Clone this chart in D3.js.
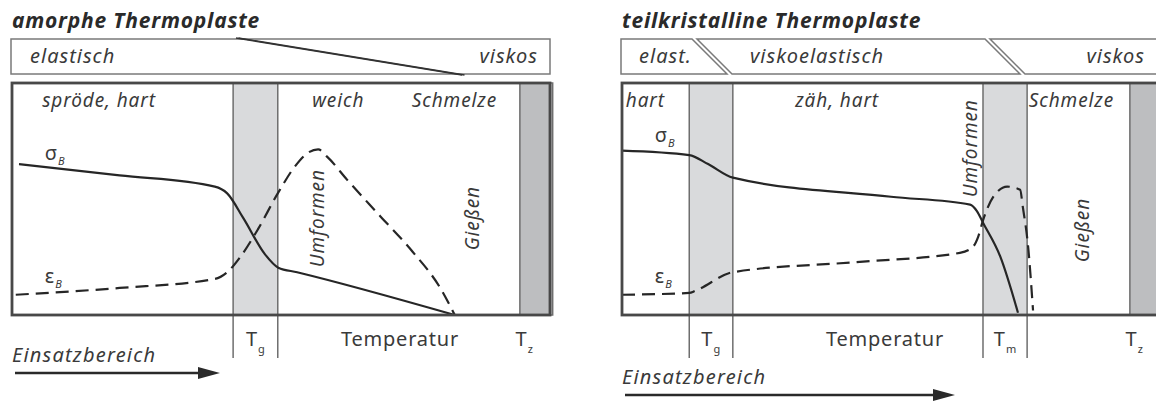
<!DOCTYPE html>
<html>
<head>
<meta charset="utf-8" />
<title>Thermoplaste</title>
<script src="https://cdnjs.cloudflare.com/ajax/libs/d3/7.8.5/d3.min.js"></script>
<style>
  body { margin: 0; background: #fff; }
  text { font-family: "Noto Sans", sans-serif; fill: #3a3a3a; }
</style>
</head>
<body>
<svg id="chart" width="1156" height="403"></svg>
<script>
// x: temperature, 0..100 across each panel; y: property value, 0..103 (box height)
let sigmaAmorph = [[1.3, 67], [20, 62], [37.7, 57], [40, 54], [43, 43], [47, 27], [49.5, 21], [53, 19], [82.3, 0]]
let epsAmorph = [[0.7, 9], [20, 12], [37.7, 16], [40, 19], [42.5, 26], [45.7, 38], [49.4, 54], [52.6, 66],
                 [55, 72], [56.9, 73.5], [58.6, 70.2], [62.3, 60], [68.4, 44], [74.5, 28], [79.6, 12], [82.3, 0]]
let sigmaTeil = [[0, 73], [12.5, 71], [16, 67], [20.6, 61], [50, 52.5], [64.7, 49], [66, 46], [67.1, 41],
                 [70.3, 26], [73.6, 1]]
let epsTeil = [[0, 9], [12.5, 9.8], [13.6, 10.7], [20.6, 19], [44.2, 23.6], [62.8, 27.6], [65.2, 30.2],
               [66.2, 34.7], [67.1, 42], [69, 52.4], [71.6, 57], [74, 55.6], [74.5, 48], [75.5, 30], [76.4, 2]]

// temperature bands [from, to, shade]
let bandsAmorph = [[41.1, 49.4, 'light'], [94.4, 100.5, 'dark']]
let bandsTeil = [[12.5, 20.6, 'light'], [67.1, 75.3, 'light'], [94.4, 100.5, 'dark']]

// tick labels below the axis [main, sub, temperature]
let ticksAmorph = [['T', 'g', 45.25], ['T', 'z', 95.2]]
let ticksTeil = [['T', 'g', 16.5], ['T', 'm', 71.2], ['T', 'z', 95.2]]

// texts inside the boxes [text, temperature, value]
let zonesAmorph = [['spröde, hart', 5.6, 92.4], ['weich', 55.8, 92.4], ['Schmelze', 74.3, 92.4]]
let zonesTeil = [['hart', 0.7, 92.4], ['zäh, hart', 32.2, 92.4], ['Schmelze', 75.6, 92.4]]
let verticalAmorph = [['Umformen', 56.7, 43], ['Gießen', 85.5, 43]]
let verticalTeil = [['Umformen', 64.6, 74], ['Gießen', 85.5, 37.7]]

let svg = d3.select('#chart')
let yScale = d3.scaleLinear().domain([0, 103]).range([315, 83])
let bannerTop = 39, bannerBottom = 74

function drawPanel(p) {
  let xScale = d3.scaleLinear().domain([0, 100]).range([p.left, p.left + 538])
  let g = svg.append('g')

  g.append('text')
    .attr('x', p.left).attr('y', 28)
    .style('font-size', '21px').style('font-weight', 'bold').style('font-style', 'italic')
    .style('letter-spacing', '0.8px')
    .style('fill', '#2a2a2a')
    .text(p.title)

  // bands
  g.selectAll('rect.band').data(p.bands).enter().append('rect')
    .attr('class', 'band')
    .attr('x', d => xScale(d[0]))
    .attr('width', d => xScale(d[1]) - xScale(d[0]))
    .attr('y', yScale(103))
    .attr('height', yScale(0) - yScale(103))
    .style('fill', d => d[2] == 'dark' ? '#bdbec0' : '#d9dadc')
    .style('stroke', '#6e6e6e')
    .style('stroke-width', 1.5)

  // band edges continue below the axis (not for T_z)
  let edges = []
  p.bands.filter(d => d[2] == 'light').forEach(d => { edges.push(d[0]); edges.push(d[1]) })
  g.selectAll('line.edge').data(edges).enter().append('line')
    .attr('x1', d => xScale(d)).attr('x2', d => xScale(d))
    .attr('y1', yScale(0)).attr('y2', 358)
    .style('stroke', '#6e6e6e').style('stroke-width', 1.5)

  let line = d3.line()
    .x(d => xScale(d[0]))
    .y(d => yScale(d[1]))
    .curve(d3.curveMonotoneX)

  g.append('path')
    .attr('d', line(p.sigma))
    .style('fill', 'none').style('stroke', '#262626').style('stroke-width', 2.2)

  g.append('path')
    .attr('d', line(p.eps))
    .style('fill', 'none').style('stroke', '#262626').style('stroke-width', 2.2)
    .style('stroke-dasharray', '13,7')

  g.append('rect')
    .attr('x', xScale(0)).attr('y', yScale(103))
    .attr('width', xScale(100) - xScale(0))
    .attr('height', yScale(0) - yScale(103))
    .style('fill', 'none').style('stroke', '#484848').style('stroke-width', 2.8)

  // zone texts
  g.selectAll('text.zone').data(p.zones).enter().append('text')
    .attr('class', 'zone')
    .attr('x', d => xScale(d[1])).attr('y', d => yScale(d[2]))
    .style('font-size', '19px').style('font-style', 'italic').style('letter-spacing', '0.9px')
    .text(d => d[0])

  g.selectAll('text.vert').data(p.vertical).enter().append('text')
    .attr('class', 'vert')
    .attr('transform', d => 'translate(' + (xScale(d[1]) + 7) + ',' + yScale(d[2]) + ') rotate(-90)')
    .attr('text-anchor', 'middle')
    .style('font-size', '19px').style('font-style', 'italic').style('letter-spacing', '0.9px')
    .text(d => d[0])

  // curve labels
  let sym = [['σ', p.sigmaLabel], ['ε', p.epsLabel]]
  sym.forEach(s => {
    let t = g.append('text')
      .attr('x', xScale(s[1][0])).attr('y', yScale(s[1][1]))
      .style('font-size', '20px')
    t.append('tspan').text(s[0])
    t.append('tspan').attr('dy', 5).attr('dx', 1).style('font-size', '11px').style('font-style', 'italic').text('B')
  })

  // tick labels
  g.selectAll('text.tick').data(p.ticks).enter().append('text')
    .attr('class', 'tick')
    .attr('x', d => xScale(d[2]))
    .attr('y', 346)
    .attr('text-anchor', 'middle')
    .style('font-size', '20px')
    .each(function(d) {
      d3.select(this).append('tspan').text(d[0])
      d3.select(this).append('tspan').attr('dy', 7).attr('dx', 1).style('font-size', '11px').text(d[1])
    })

  g.append('text')
    .attr('x', p.tempX).attr('y', 346)
    .attr('text-anchor', 'middle')
    .style('font-size', '20px').style('letter-spacing', '0.8px')
    .text('Temperatur')

  g.append('text')
    .attr('x', p.left).attr('y', p.useY)
    .style('font-size', '20px').style('font-style', 'italic').style('letter-spacing', '1.2px')
    .text('Einsatzbereich')

  g.append('line')
    .attr('x1', p.left + 3).attr('x2', p.arrowEnd - 18)
    .attr('y1', p.useY + 11).attr('y2', p.useY + 11)
    .style('stroke', '#2a2a2a').style('stroke-width', 2.5)
  g.append('path')
    .attr('d', 'M' + (p.arrowEnd - 22) + ',' + (p.useY + 5) + 'L' + p.arrowEnd + ',' + (p.useY + 11) +
               'L' + (p.arrowEnd - 22) + ',' + (p.useY + 17) + 'Z')
    .style('fill', '#2a2a2a')

  p.banner(g, xScale)
}

function bannerText(g, x, txt, anchor) {
  g.append('text')
    .attr('x', x).attr('y', 63)
    .attr('text-anchor', anchor || 'start')
    .style('font-size', '20px').style('font-style', 'italic').style('letter-spacing', '1px')
    .text(txt)
}

drawPanel({
  left: 12, title: 'amorphe Thermoplaste',
  sigma: sigmaAmorph, eps: epsAmorph, bands: bandsAmorph, ticks: ticksAmorph,
  zones: zonesAmorph, vertical: verticalAmorph,
  sigmaLabel: [6.1, 68.8], epsLabel: [6.1, 14.2],
  tempX: 400, useY: 362, arrowEnd: 220,
  banner: function(g, xScale) {
    g.append('rect')
      .attr('x', xScale(0) - 1).attr('y', bannerTop)
      .attr('width', 539).attr('height', bannerBottom - bannerTop)
      .style('fill', '#fff').style('stroke', '#7a7a7a').style('stroke-width', 1.5)
    ;[0, 2.5].forEach(o => {
      g.append('line')
        .attr('x1', 236 + o).attr('y1', bannerTop - 1)
        .attr('x2', 462 + o).attr('y2', bannerBottom + 1)
        .style('stroke', '#333').style('stroke-width', 1.4)
    })
    bannerText(g, 30, 'elastisch')
    bannerText(g, 538, 'viskos', 'end')
  }
})

drawPanel({
  left: 622, title: 'teilkristalline Thermoplaste',
  sigma: sigmaTeil, eps: epsTeil, bands: bandsTeil, ticks: ticksTeil,
  zones: zonesTeil, vertical: verticalTeil,
  sigmaLabel: [6.1, 76.8], epsLabel: [6.1, 14.2],
  tempX: 885, useY: 384, arrowEnd: 955,
  banner: function(g, xScale) {
    let segs = [
      [[621, bannerTop], [692, bannerTop], [727, bannerBottom], [621, bannerBottom]],
      [[697, bannerTop], [985, bannerTop], [1020, bannerBottom], [732, bannerBottom]],
      [[990, bannerTop], [1170, bannerTop], [1170, bannerBottom], [1025, bannerBottom]]
    ]
    g.selectAll('path.seg').data(segs).enter().append('path')
      .attr('d', d => 'M' + d.join('L') + 'Z')
      .style('fill', '#fff').style('stroke', '#7a7a7a').style('stroke-width', 1.5)
    bannerText(g, 639, 'elast.')
    bannerText(g, 750, 'viskoelastisch')
    bannerText(g, 1145, 'viskos', 'end')
  }
})
</script>
</body>
</html>
